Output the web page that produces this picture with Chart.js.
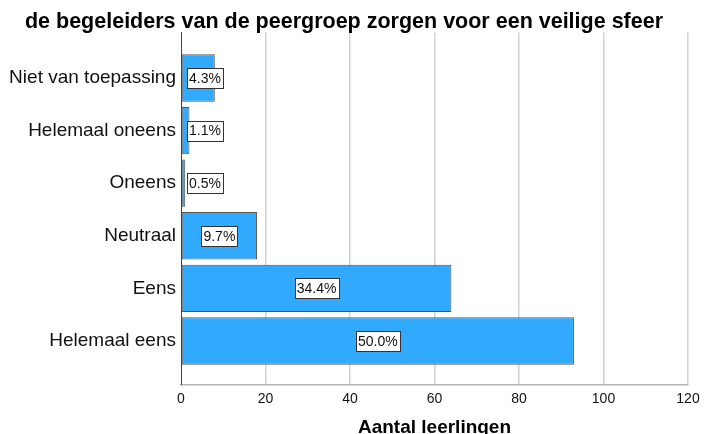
<!DOCTYPE html>
<html>
<head>
<meta charset="utf-8">
<script src="https://cdn.jsdelivr.net/npm/chart.js@4/dist/chart.umd.min.js"></script>
<style>
  html, body { margin: 0; padding: 0; background: #fff; overflow: hidden; }
  #wrap { width: 707px; height: 443px; }
</style>
</head>
<body>
<div id="wrap"><canvas id="chart" width="707" height="443"></canvas></div>
<script>
/* ================================
   Data
================================ */
const categories = [
  "Niet van toepassing",
  "Helemaal oneens",
  "Oneens",
  "Neutraal",
  "Eens",
  "Helemaal eens"
];
const counts = [8, 2, 1, 18, 64, 93];
const xTicks = [0, 20, 40, 60, 80, 100, 120];

const total = counts.reduce((a, b) => a + b, 0);
const pctText = counts.map(v => `${(v / total * 100).toFixed(1)}%`);

const FONT = '"Liberation Sans", Arial, Helvetica, sans-serif';

/* ================================
   Plugin: percentage boxes
================================ */
const pctLabels = {
  id: "pctLabels",
  afterDatasetsDraw(chart) {
    const ctx = chart.ctx;
    const meta = chart.getDatasetMeta(0);
    const zeroX = chart.scales.x.getPixelForValue(0);
    ctx.save();
    ctx.font = `14px ${FONT}`;
    ctx.textAlign = "center";
    ctx.textBaseline = "middle";
    meta.data.forEach((bar, i) => {
      const text = pctText[i];
      const w = Math.round(ctx.measureText(text).width + 4);
      const h = 20;
      const cx = Math.max((bar.x + bar.base) / 2, zeroX + 6 + w / 2);
      const left = Math.round(cx - w / 2) + 0.5;
      const top = Math.round(bar.y - h / 2) + 0.5;
      ctx.fillStyle = "#fff";
      ctx.fillRect(left, top, w, h);
      ctx.strokeStyle = "#333";
      ctx.lineWidth = 1;
      ctx.strokeRect(left, top, w, h);
      ctx.fillStyle = "#111";
      ctx.fillText(text, cx, bar.y + 1);
    });
    ctx.restore();
  }
};

/* ================================
   Chart
================================ */
new Chart(document.getElementById("chart"), {
  type: "bar",
  data: {
    labels: categories,
    datasets: [{
      data: counts,
      backgroundColor: "#31A9FD",
      borderColor: "#555",
      borderWidth: 1,
      borderSkipped: false,
      barPercentage: 0.9,
      categoryPercentage: 1
    }]
  },
  options: {
    indexAxis: "y",
    responsive: false,
    animation: false,
    layout: { padding: { left: 0, right: 19, top: 0, bottom: 0 } },
    plugins: {
      legend: { display: false },
      tooltip: { enabled: false },
      title: {
        display: true,
        text: "de begeleiders van de peergroep zorgen voor een veilige sfeer",
        color: "#000",
        font: { family: FONT, size: 21.5, weight: "bold", lineHeight: 1 },
        padding: { top: 11, bottom: 0 }
      }
    },
    scales: {
      x: {
        min: 0,
        max: 120,
        afterBuildTicks(scale) {
          scale.ticks = xTicks.map(v => ({ value: v }));
        },
        grid: {
          color: c => (c.tick && c.tick.value === 0 ? "rgba(0,0,0,0)" : "#d2d2d2"),
          lineWidth: 1.5,
          drawTicks: false
        },
        border: { color: "#b4b4b4", width: 1.5 },
        ticks: { color: "#111", font: { family: FONT, size: 14 }, padding: 6 },
        title: {
          display: true,
          text: "Aantal leerlingen",
          color: "#000",
          font: { family: FONT, size: 19, weight: "bold" },
          padding: { top: 2.5, bottom: 4 }
        }
      },
      y: {
        afterBuildTicks(scale) {
          // SPSS leaves extra room above the first and below the last bar
          scale._startValue = -0.865;
          scale._valueRange = 6.70;
        },
        afterFit(scale) {
          scale.width = 181;
        },
        grid: { display: true, color: "rgba(0,0,0,0)", drawTicks: false },
        border: { color: "#444", width: 1 },
        ticks: { color: "#111", font: { family: FONT, size: 19 }, padding: 5 }
      }
    }
  },
  plugins: [pctLabels]
});
</script>
</body>
</html>
